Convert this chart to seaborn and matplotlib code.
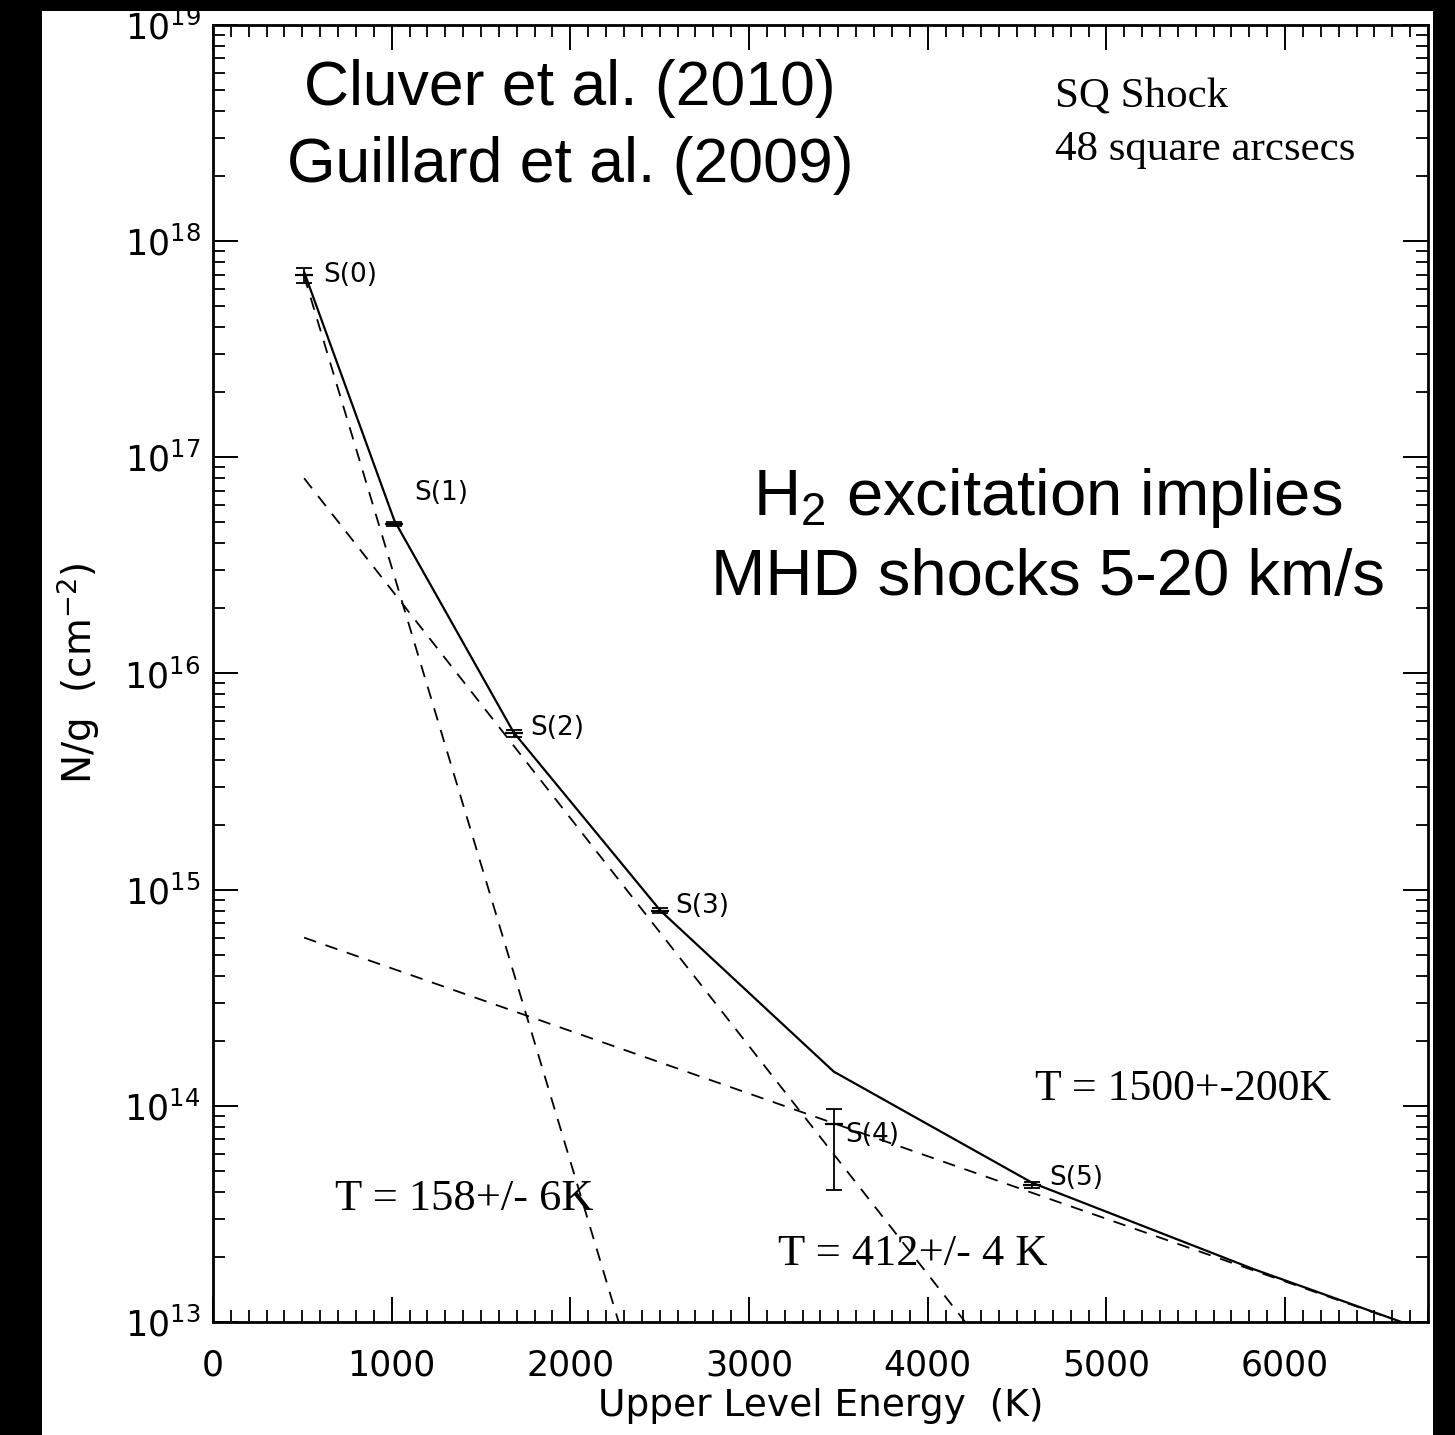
import numpy as np
import pandas as pd
import matplotlib
matplotlib.use("Agg")
import matplotlib.pyplot as plt
import seaborn as sns
from matplotlib.patches import Rectangle
from matplotlib.ticker import LogLocator, MultipleLocator, NullFormatter

# ---------------- data ----------------
line_names = ["S(0)", "S(1)", "S(2)", "S(3)", "S(4)", "S(5)"]
energy = [510, 1015, 1682, 2504, 3474, 4586]
column = [6.95e17, 4.9e16, 5.3e15, 8.0e14, 8.2e13, 4.3e13]
err_low = [6.4e17, 4.8e16, 5.1e15, 7.8e14, 4.1e13, 4.15e13]
err_high = [7.5e17, 5.0e16, 5.5e15, 8.2e14, 9.7e13, 4.45e13]

model_energy = [510, 1015, 1682, 2504, 3474, 4586, 5829, 7197]
model_column = [7.2e17, 5.1e16, 5.35e15, 8.0e14, 1.44e14, 4.4e13, 1.75e13, 6.9e12]

fit_names = ["T = 158 K", "T = 412 K", "T = 1500 K"]
fit_energy = [[510, 2400], [510, 4400], [510, 6560]]
fit_column = [[6.9e17, 4.4e12], [8.0e16, 6.3e12], [6.0e14, 1.06e13]]

x_ticks = [0, 1000, 2000, 3000, 4000, 5000, 6000]

# ---------------- figure ----------------
W, H = 1455, 1435
sns.set_style("ticks")
plt.rcParams["font.family"] = ["DejaVu Sans"]
plt.rcParams["text.color"] = "black"
plt.rcParams["axes.labelcolor"] = "black"
plt.rcParams["xtick.color"] = "black"
plt.rcParams["ytick.color"] = "black"

fig = plt.figure(figsize=(W / 100, H / 100), dpi=100, facecolor="black")
fig.add_artist(Rectangle((42 / W, 0), (1433 - 42) / W, (H - 11) / H,
                         transform=fig.transFigure, facecolor="white",
                         edgecolor="none", zorder=0))

def px(x, y):
    return x / W, 1 - y / H

left, right, top, bottom = 213, 1428, 25, 1322
ax = fig.add_axes([left / W, 1 - bottom / H, (right - left) / W, (bottom - top) / H])
ax.set_facecolor("white")
ax.set_yscale("log")

# dashed single-temperature fits
rows = []
for name, es, ns in zip(fit_names, fit_energy, fit_column):
    for e, n in zip(es, ns):
        rows.append({"energy": e, "N": n, "fit": name})
df_fit = pd.DataFrame(rows)
sns.lineplot(data=df_fit, x="energy", y="N", units="fit", estimator=None,
             style="fit", dashes={k: (7, 5.5) for k in fit_names},
             color="black", linewidth=1.3, legend=False, sort=False, ax=ax)

# solid total model
df_model = pd.DataFrame({"energy": model_energy, "N": model_column})
sns.lineplot(data=df_model, x="energy", y="N", color="black", linewidth=1.6,
             sort=False, estimator=None, ax=ax)

# data points with error bars
col = np.array(column)
yerr = [col - np.array(err_low), np.array(err_high) - col]
ax.errorbar(energy, column, yerr=yerr, fmt="none", ecolor="black",
            elinewidth=1.3, capsize=6, capthick=1.3, zorder=5)
sns.scatterplot(x=energy, y=column, marker="_", s=180, color="black",
                linewidth=1.6, ax=ax, zorder=6)

offsets = [(19, 0), (20, 31), (17, 5), (15, 5), (12, -11), (17, 7)]
for name, e, n, (dx, dy) in zip(line_names, energy, column, offsets):
    ax.annotate(name, xy=(e, n), xytext=(dx, dy), textcoords="offset pixels",
                ha="left", va="center", fontsize=19, color="black")

# axes setup
ax.set_xlim(0, 6800)
ax.set_ylim(1e13, 1e19)
ax.set_xticks(x_ticks)
ax.set_xticklabels([str(t) for t in x_ticks])
ax.xaxis.set_minor_locator(MultipleLocator(100))
ax.yaxis.set_major_locator(LogLocator(base=10, subs=(1.0,), numticks=100))
ax.yaxis.set_minor_locator(LogLocator(base=10, subs=np.arange(2, 10), numticks=100))
ax.yaxis.set_minor_formatter(NullFormatter())

ax.tick_params(which="both", direction="in", top=True, right=True,
               color="black", labelcolor="black")
ax.tick_params(which="major", length=18, width=1.4, labelsize=25)
ax.tick_params(which="minor", length=8.5, width=1.3)
ax.tick_params(axis="x", which="major", pad=19)
ax.tick_params(axis="y", which="major", pad=9)
for s in ax.spines.values():
    s.set_linewidth(2.0)
    s.set_color("black")

ax.set_xlabel("Upper Level Energy  (K)", fontsize=27, labelpad=4)
ax.set_ylabel(r"N/g  (cm$^{-2}$)", fontsize=28, labelpad=16)

# annotations
sans = ["Liberation Sans", "DejaVu Sans"]
serif = ["Liberation Serif", "DejaVu Serif"]
fig.text(*px(570, 105), "Cluver et al. (2010)", ha="center", va="baseline",
         fontsize=45, family=sans)
fig.text(*px(570, 182), "Guillard et al. (2009)", ha="center", va="baseline",
         fontsize=45, family=sans)
fig.text(*px(1048, 515), r"H$_{\mathdefault{2}}$ excitation implies", ha="center",
         va="baseline", fontsize=47, family=sans)
fig.text(*px(1048, 595), "MHD shocks 5-20 km/s", ha="center", va="baseline",
         fontsize=47, family=sans)
fig.text(*px(1055, 108), "SQ Shock", ha="left", va="baseline", fontsize=31, family=serif)
fig.text(*px(1055, 160), "48 square arcsecs", ha="left", va="baseline", fontsize=31,
         family=serif)
fig.text(*px(1035, 1100), "T = 1500+-200K", ha="left", va="baseline", fontsize=31.5,
         family=serif)
fig.text(*px(335, 1210), "T = 158+/- 6K", ha="left", va="baseline", fontsize=32,
         family=serif)
fig.text(*px(778, 1265), "T = 412+/- 4 K", ha="left", va="baseline", fontsize=32,
         family=serif)

fig.savefig("out.png", dpi=100, facecolor=fig.get_facecolor())
